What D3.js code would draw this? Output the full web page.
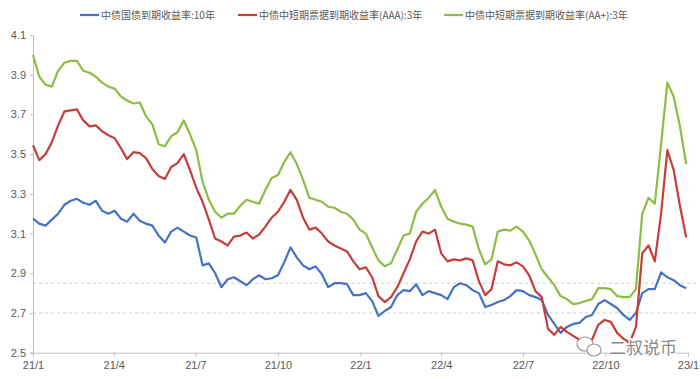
<!DOCTYPE html>
<html>
<head>
<meta charset="utf-8">
<script src="https://cdn.jsdelivr.net/npm/d3@7"></script>
<style>
  body { margin: 0; background: #fff; }
  svg { font-family: "Noto Sans CJK SC", "Microsoft YaHei", sans-serif; }
</style>
</head>
<body>
<script>
// series names (legend)
const seriesNames = ["中债国债到期收益率:10年", "中债中短期票据到期收益率(AAA):3年", "中债中短期票据到期收益率(AA+):3年"];
const seriesColors = ["#4472C4", "#C43E3A", "#8FBC45"];

// weekly observations, starting 2021-01-01
const startDate = new Date(2021, 0, 1);

const gov10y = [
  3.175, 3.15, 3.14, 3.17, 3.20, 3.245, 3.265, 3.275, 3.255, 3.245,
  3.265, 3.215, 3.20, 3.215, 3.175, 3.16, 3.20, 3.165, 3.15, 3.14,
  3.09, 3.055, 3.11, 3.13, 3.11, 3.09, 3.08, 2.94, 2.95, 2.90,
  2.83, 2.87, 2.88, 2.86, 2.84, 2.87, 2.89, 2.87, 2.875, 2.89,
  2.955, 3.03, 2.98, 2.94, 2.92, 2.935, 2.895, 2.83, 2.85, 2.85,
  2.845, 2.79, 2.79, 2.80, 2.76, 2.685, 2.71, 2.73, 2.79, 2.815,
  2.81, 2.845, 2.79, 2.81, 2.80, 2.79, 2.77, 2.83, 2.85, 2.84,
  2.815, 2.80, 2.73, 2.74, 2.755, 2.765, 2.785, 2.815, 2.81, 2.79,
  2.78, 2.765, 2.69, 2.645, 2.60, 2.63, 2.645, 2.65, 2.68, 2.69,
  2.745, 2.765, 2.745, 2.725, 2.69, 2.665, 2.70, 2.80, 2.82, 2.82,
  2.905, 2.88, 2.865, 2.84, 2.825
];

const mtnAAA = [
  3.545, 3.47, 3.50, 3.56, 3.645, 3.715, 3.72, 3.725, 3.67, 3.64,
  3.645, 3.615, 3.595, 3.58, 3.53, 3.475, 3.51, 3.505, 3.48, 3.425,
  3.39, 3.375, 3.435, 3.455, 3.50, 3.42, 3.33, 3.26, 3.17, 3.075,
  3.06, 3.04, 3.085, 3.09, 3.105, 3.075, 3.095, 3.135, 3.18, 3.21,
  3.26, 3.32, 3.27, 3.18, 3.12, 3.13, 3.10, 3.06, 3.04, 3.025,
  3.01, 2.96, 2.92, 2.93, 2.88, 2.785, 2.755, 2.78, 2.83, 2.90,
  2.97, 3.06, 3.11, 3.10, 3.12, 3.00, 2.96, 2.97, 2.965, 2.975,
  2.965, 2.86, 2.79, 2.82, 2.96, 2.945, 2.94, 2.955, 2.935, 2.89,
  2.81, 2.78, 2.62, 2.59, 2.63, 2.605, 2.585, 2.565, 2.56, 2.565,
  2.64, 2.665, 2.655, 2.60, 2.57, 2.55, 2.63, 3.00, 3.04, 2.96,
  3.20, 3.52, 3.42, 3.24, 3.08
];

const mtnAAplus = [
  4.00, 3.89, 3.85, 3.84, 3.92, 3.96, 3.97, 3.97, 3.92, 3.91,
  3.89, 3.86, 3.84, 3.83, 3.79, 3.77, 3.755, 3.76, 3.69, 3.65,
  3.55, 3.54, 3.59, 3.61, 3.67, 3.60, 3.52, 3.36, 3.27, 3.21,
  3.18, 3.20, 3.20, 3.24, 3.27, 3.26, 3.25, 3.32, 3.38, 3.395,
  3.46, 3.51, 3.45, 3.37, 3.28, 3.27, 3.26, 3.235, 3.23, 3.21,
  3.20, 3.17, 3.12, 3.10, 3.03, 2.965, 2.935, 2.95, 3.02, 3.09,
  3.10, 3.21, 3.25, 3.28, 3.32, 3.235, 3.175, 3.16, 3.15, 3.145,
  3.135, 3.02, 2.945, 2.97, 3.11, 3.12, 3.115, 3.135, 3.11, 3.065,
  2.995, 2.92, 2.88, 2.84, 2.785, 2.77, 2.745, 2.75, 2.76, 2.77,
  2.825, 2.825, 2.82, 2.785, 2.78, 2.78, 2.82, 3.20, 3.28, 3.25,
  3.55, 3.86, 3.79, 3.64, 3.45
];

const yTicks = [2.5, 2.7, 2.9, 3.1, 3.3, 3.5, 3.7, 3.9, 4.1];
const refLines = [2.85, 2.7];
const xTickDates = [
  new Date(2021, 0, 1), new Date(2021, 3, 1), new Date(2021, 6, 1), new Date(2021, 9, 1),
  new Date(2022, 0, 1), new Date(2022, 3, 1), new Date(2022, 6, 1), new Date(2022, 9, 1),
  new Date(2023, 0, 1)
];

const width = 700, height = 379;
const svg = d3.select("body").append("svg")
  .attr("width", width)
  .attr("height", height);

const x = d3.scaleTime()
  .domain([new Date(2021, 0, 1), new Date(2023, 0, 1)])
  .range([33, 688]);
const y = d3.scaleLinear()
  .domain([2.5, 4.1])
  .range([352.7, 35]);

const dates = gov10y.map((_, i) => d3.timeDay.offset(startDate, 7 * i));

// dashed reference lines
svg.selectAll(".ref")
  .data(refLines)
  .enter().append("line")
  .attr("x1", 33).attr("x2", 696)
  .attr("y1", d => y(d)).attr("y2", d => y(d))
  .style("stroke", "#CFCFCF")
  .style("stroke-width", 1)
  .style("stroke-dasharray", "3,3");

// y axis
const yAxis = svg.append("g")
  .attr("transform", "translate(33,0)")
  .call(d3.axisLeft(y).tickValues(yTicks).tickFormat(d3.format(".1f")).tickSize(3).tickPadding(4));
yAxis.select(".domain").style("stroke", "#BFBFBF");
yAxis.selectAll(".tick line").style("stroke", "#BFBFBF");
yAxis.selectAll("text")
  .style("fill", "#595959")
  .style("font-size", "11px")
  .style("font-family", "'Liberation Sans', Arial, sans-serif");

// x axis
const xAxis = svg.append("g")
  .attr("transform", "translate(0,352.7)")
  .call(d3.axisBottom(x).tickValues(xTickDates).tickFormat(d3.timeFormat("%y/%-m")).tickSize(4).tickPadding(5));
xAxis.select(".domain").style("stroke", "#BFBFBF");
xAxis.selectAll(".tick line").style("stroke", "#BFBFBF");
xAxis.selectAll("text")
  .style("fill", "#595959")
  .style("font-size", "11px")
  .style("font-family", "'Liberation Sans', Arial, sans-serif");

// lines
const line = d3.line()
  .x((d, i) => x(dates[i]))
  .y(d => y(d));

[gov10y, mtnAAA, mtnAAplus].forEach((vals, k) => {
  svg.append("path")
    .datum(vals)
    .attr("d", line)
    .style("fill", "none")
    .style("stroke", seriesColors[k])
    .style("stroke-width", 2.2)
    .style("stroke-linejoin", "round");
});

// legend
const legendX = [80, 238, 444];
const legend = svg.selectAll(".legend")
  .data(seriesNames)
  .enter().append("g")
  .attr("transform", (d, i) => `translate(${legendX[i]},15)`);
legend.append("line")
  .attr("x1", 0).attr("x2", 19)
  .style("stroke", (d, i) => seriesColors[i])
  .style("stroke-width", 2.2);
legend.append("text")
  .attr("x", 21)
  .attr("dy", "0.35em")
  .text(d => d)
  .style("font-size", "10px")
  .style("fill", "#595959");

// watermark
const wm = svg.append("g").attr("transform", "translate(0,0)");
wm.append("ellipse")
  .attr("cx", 585).attr("cy", 344).attr("rx", 8).attr("ry", 7)
  .style("fill", "#fff").style("stroke", "#9a9a9a").style("stroke-width", 1.2);
wm.append("ellipse")
  .attr("cx", 594).attr("cy", 350).attr("rx", 7).attr("ry", 6)
  .style("fill", "#fff").style("stroke", "#9a9a9a").style("stroke-width", 1.2);
wm.append("text")
  .attr("x", 609).attr("y", 354)
  .text("二叔说币")
  .style("font-size", "17px")
  .style("fill", "#8a8a8a")
  .style("stroke", "#fff")
  .style("stroke-width", 2.5)
  .style("paint-order", "stroke");
</script>
</body>
</html>
